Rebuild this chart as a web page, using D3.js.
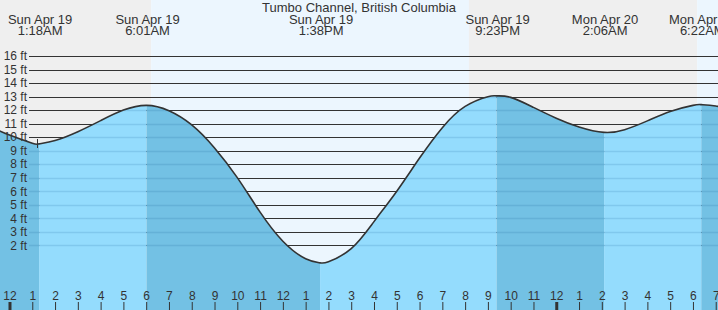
<!DOCTYPE html>
<html>
<head>
<meta charset="utf-8">
<script src="https://cdn.jsdelivr.net/npm/d3@7"></script>
<style>
  body { margin: 0; background: #fff; }
  svg { display: block; font-family: "Liberation Sans", Arial, sans-serif; }
</style>
</head>
<body>
<svg id="tides" width="718" height="310"></svg>
<script>
// tide heights (ft)
var tideTimes = ["2020-04-18 23:00", "2020-04-19 00:00", "2020-04-19 01:00", "2020-04-19 01:18",
    "2020-04-19 02:00", "2020-04-19 03:00", "2020-04-19 04:00", "2020-04-19 05:00", "2020-04-19 06:01",
    "2020-04-19 07:00", "2020-04-19 08:00", "2020-04-19 09:00", "2020-04-19 10:00", "2020-04-19 11:00",
    "2020-04-19 12:00", "2020-04-19 13:00", "2020-04-19 13:38", "2020-04-19 14:00", "2020-04-19 15:00",
    "2020-04-19 16:00", "2020-04-19 17:00", "2020-04-19 18:00", "2020-04-19 19:00", "2020-04-19 20:00",
    "2020-04-19 21:00", "2020-04-19 21:23", "2020-04-19 22:00", "2020-04-19 23:00", "2020-04-20 00:00",
    "2020-04-20 01:00", "2020-04-20 02:06", "2020-04-20 03:00", "2020-04-20 04:00", "2020-04-20 05:00",
    "2020-04-20 06:00", "2020-04-20 06:22", "2020-04-20 07:00", "2020-04-20 08:00"];
var tideHeights = [10.9, 10.15, 9.55, 9.5,
    9.75, 10.4, 11.22, 12.0, 12.35,
    11.95, 10.9, 9.2, 7.0, 4.45,
    2.3, 1.0, 0.7, 0.78, 1.75,
    3.75, 6.0, 8.45, 10.7, 12.27,
    12.99, 13.05, 12.94, 12.2, 11.4,
    10.75, 10.35, 10.55, 11.2, 11.9,
    12.35, 12.4, 12.3, 12.0];

// high / low events
var eventTimes = ["2020-04-19 01:18", "2020-04-19 06:01", "2020-04-19 13:38",
    "2020-04-19 21:23", "2020-04-20 02:06", "2020-04-20 06:22"];
var eventTypes = ["low", "high", "low", "high", "low", "high"];
var eventDays = ["Sun Apr 19", "Sun Apr 19", "Sun Apr 19", "Sun Apr 19", "Mon Apr 20", "Mon Apr 20"];
var eventClock = ["1:18AM", "6:01AM", "1:38PM", "9:23PM", "2:06AM", "6:22AM"];

// sunrise / sunset
var sunTimes = ["2020-04-19 06:13", "2020-04-19 20:10", "2020-04-20 06:11"];

var ftTicks = [2, 3, 4, 5, 6, 7, 8, 9, 10, 11, 12, 13, 14, 15, 16];
var nowTime = "2020-04-19 01:13";
var title = "Tumbo Channel, British Columbia";

var parse = d3.timeParse("%Y-%m-%d %H:%M");
var width = 718, height = 310;

var data = tideTimes.map(function(t, i) { return {date: parse(t), ft: tideHeights[i]}; });
var events = eventTimes.map(function(t, i) {
    return {date: parse(t), type: eventTypes[i], day: eventDays[i], clock: eventClock[i]};
});

var x = d3.scaleTime()
    .domain([parse("2020-04-18 23:35"), parse("2020-04-20 07:06")])
    .range([0, width]);
var y = d3.scaleLinear()
    .domain([0, 16])
    .range([272.3, 56]);

var svg = d3.select("#tides");

// night / day background above the water
var sun = [x.domain()[0]].concat(sunTimes.map(parse)).concat([x.domain()[1]]);
for (var i = 0; i < sun.length - 1; i++) {
    svg.append("rect")
        .attr("x", x(sun[i]))
        .attr("y", 0)
        .attr("width", x(sun[i + 1]) - x(sun[i]))
        .attr("height", height)
        .attr("fill", i % 2 == 0 ? "#efefef" : "#ecf6fe");
}

// dark grid lines (visible above the curve)
svg.append("g").selectAll("line")
    .data(ftTicks)
    .enter().append("line")
    .attr("x1", 29).attr("x2", width)
    .attr("y1", function(d) { return Math.round(y(d)) + 0.5; })
    .attr("y2", function(d) { return Math.round(y(d)) + 0.5; })
    .attr("stroke", "#333")
    .attr("stroke-width", 1.2);

var area = d3.area()
    .curve(d3.curveNatural)
    .x(function(d) { return x(d.date); })
    .y0(height)
    .y1(function(d) { return y(d.ft); });

var line = d3.line()
    .curve(d3.curveNatural)
    .x(function(d) { return x(d.date); })
    .y(function(d) { return y(d.ft); });

svg.append("clipPath").attr("id", "water")
    .append("path")
    .datum(data)
    .attr("d", area);

var water = svg.append("g").attr("clip-path", "url(#water)");

// falling tide darker, rising lighter
var bounds = [x.domain()[0]].concat(events.map(function(e) { return e.date; })).concat([x.domain()[1]]);
for (var j = 0; j < bounds.length - 1; j++) {
    var falling = j == 0 ? true : events[j - 1].type == "high";
    water.append("rect")
        .attr("x", x(bounds[j]))
        .attr("y", 0)
        .attr("width", x(bounds[j + 1]) - x(bounds[j]))
        .attr("height", height)
        .attr("fill", falling ? "#73c1e4" : "#94dcfd");
}

water.selectAll(".wgrid")
    .data(ftTicks)
    .enter().append("line")
    .attr("class", "wgrid")
    .attr("x1", 29).attr("x2", width)
    .attr("y1", function(d) { return Math.round(y(d)) + 0.5; })
    .attr("y2", function(d) { return Math.round(y(d)) + 0.5; })
    .attr("stroke", "rgba(0,70,130,0.13)")
    .attr("stroke-width", 1.5);

svg.append("path")
    .datum(data)
    .attr("fill", "none")
    .attr("stroke", "#333")
    .attr("stroke-width", 1.6)
    .attr("d", line);

// small marker
var nowX = Math.round(x(parse(nowTime))) + 0.5;
svg.append("line")
    .attr("x1", nowX).attr("x2", nowX)
    .attr("y1", 139).attr("y2", 148)
    .attr("stroke", "#333");

// y axis labels
var yAxis = svg.append("g")
    .attr("transform", "translate(28,0)")
    .call(d3.axisLeft(y).tickValues(ftTicks).tickSize(0).tickPadding(1)
        .tickFormat(function(d) { return d + " ft"; }));
yAxis.select(".domain").remove();
yAxis.selectAll("text")
    .attr("fill", "#333")
    .style("font-size", "12px")
    .style("font-family", "'Liberation Sans', Arial, sans-serif");

// hour axis at the bottom
var xAxis = svg.append("g")
    .attr("transform", "translate(0,302)")
    .call(d3.axisBottom(x).ticks(d3.timeHour.every(1)).tickSize(8)
        .tickFormat(d3.timeFormat("%-I")));
xAxis.select(".domain").remove();
xAxis.selectAll(".tick line")
    .attr("stroke", "#333")
    .attr("stroke-width", function(d) { return d.getHours() == 0 ? 3 : 1; });
xAxis.selectAll("text")
    .attr("y", -2)
    .attr("dy", 0)
    .attr("fill", "#333")
    .style("font-size", "12px")
    .style("font-family", "'Liberation Sans', Arial, sans-serif");

// title and event labels
svg.append("text")
    .attr("x", 359).attr("y", 12)
    .attr("text-anchor", "middle")
    .attr("fill", "#333")
    .style("font-size", "13px")
    .text(title);

var labels = svg.append("g").selectAll("text")
    .data(events)
    .enter().append("text")
    .attr("text-anchor", "middle")
    .attr("fill", "#333")
    .style("font-size", "13px");
labels.append("tspan")
    .attr("x", function(d) { return x(d.date) + 1; })
    .attr("y", 24)
    .text(function(d) { return d.day; });
labels.append("tspan")
    .attr("x", function(d) { return x(d.date) + 1; })
    .attr("y", 35)
    .text(function(d) { return d.clock; });
</script>
</body>
</html>
